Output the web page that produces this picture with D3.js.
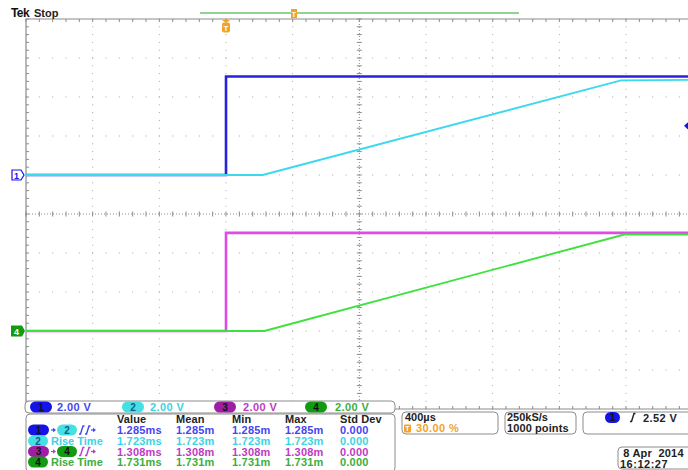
<!DOCTYPE html>
<html>
<head>
<meta charset="utf-8">
<script src="https://cdn.jsdelivr.net/npm/d3@7"></script>
<style>
  body { margin: 0; background: #fff; }
  svg { display: block; }
  text { font-family: 'Liberation Sans', Arial, sans-serif; font-weight: bold; }
</style>
</head>
<body>
<svg id="scope" width="688" height="470"></svg>
<script>
/* waveform break points (time in ms, level in V) */
const ch1Time = [-1.2, 0, 0, 2.8]
const ch1Volt = [0, 0, 5.05, 5.05]
const ch2Time = [-1.2, 0.22, 2.37, 2.8]
const ch2Volt = [0, 0, 4.85, 4.88]
const ch3Time = [-1.2, 0, 0, 2.8]
const ch3Volt = [0, 0, 5.03, 5.03]
const ch4Time = [-1.2, 0.23, 2.39, 2.8]
const ch4Volt = [0, 0, 4.95, 4.95]

/* channel settings */
const chanNames = ['1', '2', '3', '4']
const chanScale = ['2.00 V', '2.00 V', '2.00 V', '2.00 V']
const chanVoltsDiv = [2, 2, 2, 2]
const chanPosDiv = [1, 1, -3, -3]

/* horizontal / trigger readouts */
const timeBase = '400µs'
const trigPos = '30.00 %'
const sampleRate = '250kS/s'
const recLength = '1000 points'
const trigLevel = 2.52
const trigLabel = '2.52 V'
const dateLabel = ' 8 Apr  2014'
const timeLabel = '16:12:27'

/* measurement table */
const measHeads = ['Value', 'Mean', 'Min', 'Max', 'Std Dev']
const measRow1 = ['1.285ms', '1.285m', '1.285m', '1.285m', '0.000']
const measRow2 = ['1.723ms', '1.723m', '1.723m', '1.723m', '0.000']
const measRow3 = ['1.308ms', '1.308m', '1.308m', '1.308m', '0.000']
const measRow4 = ['1.731ms', '1.731m', '1.731m', '1.731m', '0.000']

/* colours */
const traceCol = ['#2424dc', '#3cd8ee', '#e04ae6', '#3ee23e']
const pillCol = ['#1414e6', '#44e0e4', '#a01ea6', '#129a12']
const textCol = ['#4646f0', '#3cd4e2', '#c03ac4', '#3cae3c']
const gridCol = '#a6a6a6'
const frameCol = '#8c8c8c'
const orange = '#f2a22a'
const fs = 11

const svg = d3.select('#scope')

/* graticule scales: 10 x 10 divisions, right edge runs past the window */
const gx = d3.scaleLinear().domain([0, 10]).range([26, 692.7])
const gy = d3.scaleLinear().domain([-5, 5]).range([409, 19])
const xTime = d3.scaleLinear().domain([-1.2, 2.8]).range([26, 692.7])

/* fn: screen y of a level on a channel */
function yLevel(ch, v) {
  return gy(v / chanVoltsDiv[ch] + chanPosDiv[ch])
}

/* ---- graticule ---- */
const grid = svg.append('g')
const minorX = d3.range(0, 10.01, 0.2)
const minorY = d3.range(-5, 5.01, 0.2)

/* dotted division lines */
d3.range(1, 10).filter((i) => i !== 5).forEach(function (i) {
  grid.selectAll(null)
    .data(minorY)
    .enter()
    .append('rect')
    .attr('x', gx(i) - 0.5)
    .attr('y', (d) => gy(d) - 0.5)
    .attr('width', 1)
    .attr('height', 1)
    .attr('fill', gridCol)
})
d3.range(-4, 5).filter((j) => j !== 0).forEach(function (j) {
  grid.selectAll(null)
    .data(minorX)
    .enter()
    .append('rect')
    .attr('x', (d) => gx(d) - 0.5)
    .attr('y', gy(j) - 0.5)
    .attr('width', 1)
    .attr('height', 1)
    .attr('fill', gridCol)
})

/* centre lines with minor ticks */
grid.append('line')
  .attr('x1', gx(0)).attr('x2', gx(10)).attr('y1', gy(0)).attr('y2', gy(0))
  .attr('stroke', frameCol).attr('stroke-dasharray', '1,2')
grid.append('line')
  .attr('x1', gx(5)).attr('x2', gx(5)).attr('y1', gy(-5)).attr('y2', gy(5))
  .attr('stroke', frameCol).attr('stroke-dasharray', '1,2')
grid.selectAll(null)
  .data(minorX)
  .enter()
  .append('line')
  .attr('x1', (d) => gx(d)).attr('x2', (d) => gx(d))
  .attr('y1', gy(0) - 2.5).attr('y2', gy(0) + 2.5)
  .attr('stroke', frameCol)
grid.selectAll(null)
  .data(minorY)
  .enter()
  .append('line')
  .attr('x1', gx(5) - 2.5).attr('x2', gx(5) + 2.5)
  .attr('y1', (d) => gy(d)).attr('y2', (d) => gy(d))
  .attr('stroke', frameCol)

/* frame with inward ticks */
grid.append('path')
  .attr('d', `M${gx(10)},${gy(5)}H${gx(0)}V${gy(-5)}H${gx(10)}`)
  .attr('fill', 'none')
  .attr('stroke', frameCol)
  .attr('stroke-width', 1.2)
grid.selectAll(null)
  .data(minorX)
  .enter()
  .append('path')
  .attr('d', (d) => `M${gx(d)},${gy(5)}v3M${gx(d)},${gy(-5)}v-3`)
  .attr('stroke', frameCol)
grid.selectAll(null)
  .data(minorY)
  .enter()
  .append('path')
  .attr('d', (d) => `M${gx(0)},${gy(d)}h3`)
  .attr('stroke', frameCol)

/* ---- traces ---- */
const traces = [
  { ch: 0, t: ch1Time, v: ch1Volt, w: 2.6 },
  { ch: 1, t: ch2Time, v: ch2Volt, w: 1.9 },
  { ch: 2, t: ch3Time, v: ch3Volt, w: 2.6 },
  { ch: 3, t: ch4Time, v: ch4Volt, w: 1.9 }
]
traces.forEach(function (tr) {
  const pts = tr.t.map((t, i) => [t, tr.v[i]])
  const line = d3.line()
    .x((d) => xTime(d[0]))
    .y((d) => yLevel(tr.ch, d[1]))
  svg.append('path')
    .attr('d', line(pts))
    .attr('fill', 'none')
    .attr('stroke', traceCol[tr.ch])
    .attr('stroke-width', tr.w)
})

/* ---- ground markers on the left ---- */
const g1 = yLevel(0, 0)
svg.append('path')
  .attr('d', `M12,${g1 - 5}h9l3,5l-3,5h-9z`)
  .attr('fill', '#fff').attr('stroke', pillCol[0]).attr('stroke-width', 1.2)
svg.append('text')
  .attr('x', 16.5).attr('y', g1 + 3.5)
  .attr('text-anchor', 'middle')
  .attr('font-size', 9).attr('fill', pillCol[0])
  .text(chanNames[0])
const g4 = yLevel(3, 0)
svg.append('path')
  .attr('d', `M11,${g4 - 5.5}h11l3,5.5l-3,5.5h-11z`)
  .attr('fill', pillCol[3])
svg.append('text')
  .attr('x', 16.5).attr('y', g4 + 3.5)
  .attr('text-anchor', 'middle')
  .attr('font-size', 9).attr('fill', '#fff')
  .text(chanNames[3])

/* trigger level marker (right edge) */
const tl = yLevel(0, trigLevel)
svg.append('path')
  .attr('d', `M684,${tl}l5,-4.5l5,4.5l-5,4.5z`)
  .attr('fill', pillCol[0])

/* ---- top status ---- */
svg.append('text').attr('x', 11).attr('y', 17)
  .attr('font-size', 12).attr('font-weight', 900).attr('fill', '#111')
  .attr('letter-spacing', -0.6)
  .text('Tek')
svg.append('text').attr('x', 34).attr('y', 17)
  .attr('font-size', 11).attr('fill', '#222')
  .text('Stop')

/* record view bar */
svg.append('line')
  .attr('x1', 200).attr('x2', 519).attr('y1', 13).attr('y2', 13)
  .attr('stroke', '#6cc46c').attr('stroke-width', 1.5)
svg.append('rect').attr('x', 291).attr('y', 9).attr('width', 6).attr('height', 9)
  .attr('fill', orange)
svg.append('text').attr('x', 294).attr('y', 16.5).attr('text-anchor', 'middle')
  .attr('font-size', 7).attr('fill', '#fff').text('T')

/* trigger position marker */
const tx = xTime(0)
svg.append('path')
  .attr('d', `M${tx - 4},20h8l-4,3z`)
  .attr('fill', orange)
svg.append('rect').attr('x', tx - 4).attr('y', 22.5).attr('width', 8).attr('height', 10)
  .attr('rx', 2).attr('fill', orange)
svg.append('text').attr('x', tx).attr('y', 30.5).attr('text-anchor', 'middle')
  .attr('font-size', 8).attr('fill', '#fff').text('T')

/* ---- readouts ---- */
/* fn: rounded readout box */
function box(x, y, w, h) {
  svg.append('rect')
    .attr('x', x).attr('y', y).attr('width', w).attr('height', h)
    .attr('rx', 4)
    .attr('fill', '#fff')
    .attr('stroke', frameCol)
    .attr('stroke-width', 1)
}

/* fn: channel pill */
function pill(x, cy, ch, w) {
  w = w || 22
  svg.append('rect')
    .attr('x', x).attr('y', cy - 5.5).attr('width', w).attr('height', 11)
    .attr('rx', 5.5)
    .attr('fill', pillCol[ch])
  svg.append('text')
    .attr('x', x + w / 2).attr('y', cy + 3.5)
    .attr('text-anchor', 'middle')
    .attr('font-size', 10)
    .attr('fill', ch === 1 ? '#155a8a' : '#111')
    .text(chanNames[ch])
}

/* fn: rising edge glyph */
function edge(x, cy, col) {
  svg.append('path')
    .attr('d', `M${x},${cy + 4}h1.5l2.5,-8h1.5`)
    .attr('fill', 'none').attr('stroke', col).attr('stroke-width', 1.4)
}

/* fn: small arrow */
function arrow(x, cy, col, len) {
  svg.append('path')
    .attr('d', `M${x},${cy}h${len}`)
    .attr('stroke', col).attr('stroke-width', 1.2)
  svg.append('path')
    .attr('d', `M${x + len + 2},${cy}l-3,-2.2v4.4z`)
    .attr('fill', col)
}

/* vertical scale box */
const chanX = [30, 122, 214, 305]
const chanTxtX = [57, 150, 243, 335]
box(25, 401, 370, 12)
chanNames.forEach(function (c, i) {
  pill(chanX[i], 407, i)
  svg.append('text')
    .attr('x', chanTxtX[i]).attr('y', 411)
    .attr('font-size', fs).attr('fill', textCol[i])
    .attr('letter-spacing', 0.4)
    .text(chanScale[i])
})

/* measurement box */
box(26, 414, 369, 58)
const colX = [117, 176, 232, 285, 340]
const rowY = [419, 430, 441, 451.5, 462]
svg.selectAll(null)
  .data(measHeads)
  .enter()
  .append('text')
  .attr('x', (d, i) => colX[i])
  .attr('y', rowY[0] + 4)
  .attr('font-size', fs)
  .attr('fill', '#222')
  .attr('letter-spacing', 0.1)
  .text((d) => d)

const measRows = [measRow1, measRow2, measRow3, measRow4]
measRows.forEach(function (row, r) {
  svg.selectAll(null)
    .data(row)
    .enter()
    .append('text')
    .attr('x', (d, i) => colX[i])
    .attr('y', rowY[r + 1] + 4)
    .attr('font-size', fs)
    .attr('fill', textCol[r])
    .attr('letter-spacing', 0.2)
    .text((d) => d)
})

/* row labels */
pill(28, rowY[1], 0, 21)
arrow(51, rowY[1], textCol[0], 3)
pill(57, rowY[1], 1, 20)
edge(79, rowY[1], textCol[0])
edge(85, rowY[1], textCol[0])
arrow(91, rowY[1], textCol[0], 3)

pill(28, rowY[2], 1, 20)
svg.append('text').attr('x', 51).attr('y', rowY[2] + 4)
  .attr('font-size', fs).attr('fill', textCol[1])
  .text('Rise Time')

pill(28, rowY[3], 2, 21)
arrow(51, rowY[3], textCol[2], 3)
pill(57, rowY[3], 3, 20)
edge(79, rowY[3], textCol[2])
edge(85, rowY[3], textCol[2])
arrow(91, rowY[3], textCol[2], 3)

pill(28, rowY[4], 3, 20)
svg.append('text').attr('x', 51).attr('y', rowY[4] + 4)
  .attr('font-size', fs).attr('fill', textCol[3])
  .text('Rise Time')

/* horizontal box */
box(402, 412, 96, 22)
svg.append('text').attr('x', 405).attr('y', 421)
  .attr('font-size', fs).attr('fill', '#222').text(timeBase)
svg.append('rect').attr('x', 404).attr('y', 424.5).attr('width', 7).attr('height', 8)
  .attr('rx', 1).attr('fill', orange)
svg.append('text').attr('x', 407.5).attr('y', 431.3).attr('text-anchor', 'middle')
  .attr('font-size', 7).attr('fill', '#fff').text('T')
svg.append('text').attr('x', 416).attr('y', 432)
  .attr('font-size', fs).attr('fill', orange).attr('letter-spacing', 0.4).text(trigPos)

/* acquisition box */
box(505, 412, 71, 22)
svg.append('text').attr('x', 507).attr('y', 421)
  .attr('font-size', fs).attr('fill', '#222').text(sampleRate)
svg.append('text').attr('x', 507).attr('y', 432)
  .attr('font-size', fs).attr('fill', '#222').attr('letter-spacing', 0.1).text(recLength)

/* trigger box */
box(583, 412, 112, 22)
pill(605, 417.5, 0, 15)
edge(630, 417.5, '#222')
svg.append('text').attr('x', 643).attr('y', 421.5)
  .attr('font-size', fs).attr('fill', '#222').attr('letter-spacing', 0.4).text(trigLabel)

/* date box */
box(618, 447, 80, 22)
svg.append('text').attr('x', 620).attr('y', 456.5)
  .style('white-space', 'pre')
  .attr('font-size', fs).attr('fill', '#222').attr('letter-spacing', 0.2).text(dateLabel)
svg.append('text').attr('x', 620).attr('y', 467.5)
  .attr('font-size', fs).attr('fill', '#222').attr('letter-spacing', 0.5).text(timeLabel)
</script>
</body>
</html>
